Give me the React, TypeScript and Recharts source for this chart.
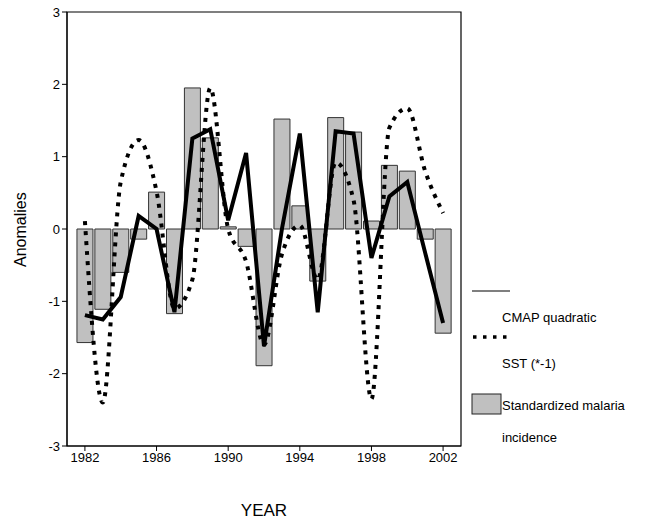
import { Bar, ComposedChart, Line, ReferenceArea, XAxis, YAxis } from 'recharts';

const years = [
  1982, 1983, 1984, 1985, 1986, 1987, 1988, 1989, 1990, 1991, 1992,
  1993, 1994, 1995, 1996, 1997, 1998, 1999, 2000, 2001, 2002,
];
const malaria = [
  -1.57, -1.11, -0.6, -0.14, 0.51, -1.17, 1.95, 1.26, 0.03, -0.24, -1.89,
  1.52, 0.32, -0.72, 1.54, 1.34, 0.11, 0.88, 0.8, -0.14, -1.44,
];
const cmap = [
  -1.19, -1.25, -0.94, 0.18, 0.0, -1.15, 1.25, 1.38, 0.12, 1.05, -1.62,
  0.0, 1.32, -1.15, 1.35, 1.32, -0.4, 0.45, 0.65, -0.33, -1.3,
];
const sst = [
  0.11, -2.4, 0.65, 1.23, 0.52, -1.1, -0.7, 1.95, 0.0, -0.45, -1.6,
  -0.35, 0.05, -0.7, 0.92, 0.4, -2.35, 1.4, 1.67, 0.8, 0.22,
];
const xTicks = [1982, 1986, 1990, 1994, 1998, 2002];
const yTicks = [-3, -2, -1, 0, 1, 2, 3];

const data = years.map((year, i) => ({
  year,
  malaria: malaria[i],
  cmap: cmap[i],
  sst: sst[i],
}));

const font = "'Liberation Sans', Arial, sans-serif";

function LegendBox() {
  return (
    <svg
      width={190}
      height={180}
      style={{ position: 'absolute', left: 462, top: 270, fontFamily: font }}
    >
      <line x1={10} y1={21} x2={48} y2={21} stroke="#000" strokeWidth={1.2} />
      <text x={40} y={52} fontSize={13}>CMAP quadratic</text>
      <line x1={11} y1={67} x2={48} y2={67} stroke="#000" strokeWidth={3.5} strokeDasharray="3.5 6.5" />
      <text x={40} y={98} fontSize={13}>SST (*-1)</text>
      <rect x={10} y={124} width={29} height={20} fill="#c0c0c0" stroke="#222" />
      <text x={40} y={140} fontSize={13}>Standardized malaria</text>
      <text x={40} y={172} fontSize={13}>incidence</text>
    </svg>
  );
}

export default function App() {
  return (
    <div style={{ position: 'absolute', left: 0, top: 0, width: 652, height: 522, background: '#fff' }}>
      <ComposedChart
        width={652}
        height={522}
        data={data}
        margin={{ top: 12, right: 191, bottom: 46, left: 7 }}
        style={{ fontFamily: font }}
      >
        <XAxis
          dataKey="year"
          type="number"
          domain={[1981, 2003]}
          ticks={xTicks}
          interval={0}
          height={30}
          tickSize={5}
          stroke="#000"
          tick={{ fill: '#000', fontSize: 13 }}
          label={{ value: 'YEAR', position: 'insideBottom', offset: -40, fill: '#000', fontSize: 17 }}
        />
        <YAxis
          type="number"
          domain={[-3, 3]}
          ticks={yTicks}
          interval={0}
          width={60}
          tickSize={5}
          stroke="#000"
          tick={{ fill: '#000', fontSize: 13 }}
          label={{ value: 'Anomalies', angle: -90, position: 'insideLeft', dx: 8, dy: 38, fill: '#000', fontSize: 16 }}
        />
        <ReferenceArea x1={1981} x2={2003} y1={-3} y2={3} fill="none" stroke="#000" strokeWidth={1.2} />
        <Bar dataKey="malaria" barSize={16} fill="#c0c0c0" stroke="#333" strokeWidth={1} isAnimationActive={false} />
        <Line
          dataKey="sst"
          type="monotone"
          stroke="#000"
          strokeWidth={4}
          strokeDasharray="4 6"
          dot={false}
          isAnimationActive={false}
        />
        <Line
          dataKey="cmap"
          type="linear"
          stroke="#000"
          strokeWidth={4}
          dot={false}
          isAnimationActive={false}
        />
      </ComposedChart>
      <LegendBox />
    </div>
  );
}
